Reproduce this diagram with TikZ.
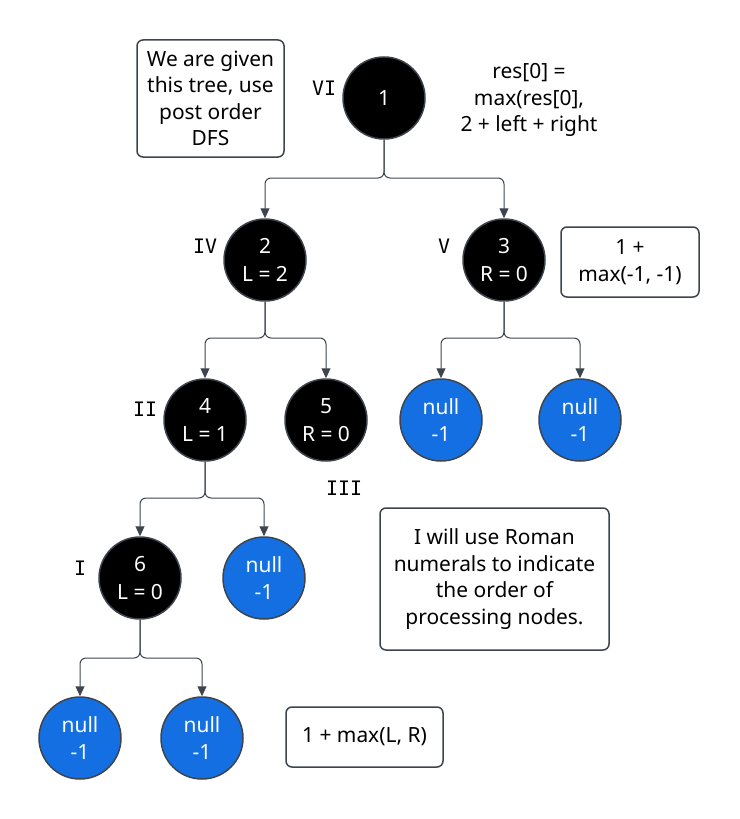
\documentclass[tikz,border=0pt]{standalone}
\usepackage{fontspec}
\setmainfont{Noto Sans}
\setmonofont{DejaVu Sans Mono}
\usetikzlibrary{arrows.meta}
\definecolor{edgegray}{RGB}{62,68,78}
\definecolor{nullblue}{RGB}{20,112,226}
\begin{document}
\begin{tikzpicture}[x=1bp,y=-1bp,
  every node/.style={font=\fontsize{21}{26.5}\selectfont},
  tnode/.style={circle,minimum size=82bp,inner sep=0pt,fill=black,draw=edgegray,line width=1.5bp,text=white,align=center,font=\fontsize{21}{28}\selectfont},
  nnode/.style={tnode,fill=nullblue},
  note/.style={draw=edgegray,line width=1.5bp,rounded corners=6bp,align=center,inner sep=0pt},
  order/.style={font=\ttfamily\fontsize{20}{24}\selectfont},
  edge/.style={draw=edgegray,line width=1bp,rounded corners=6bp,-{Triangle[length=10bp,width=9bp]}}]
\useasboundingbox (0,0) rectangle (740,819);

% tree nodes
\node[tnode] (n1) at (384,98) {1};
\node[tnode] (n2) at (265,260) {2\\L = 2};
\node[tnode] (n3) at (504,260) {3\\R = 0};
\node[tnode] (n4) at (205,420) {4\\L = 1};
\node[tnode] (n5) at (326,420) {5\\R = 0};
\node[nnode] (n3l) at (441,420) {null\\-1};
\node[nnode] (n3r) at (580,420) {null\\-1};
\node[tnode] (n6) at (140,578) {6\\L = 0};
\node[nnode] (n4r) at (264,578) {null\\-1};
\node[nnode] (n6l) at (80,738) {null\\-1};
\node[nnode] (n6r) at (202,738) {null\\-1};

% branch points
\coordinate (b1) at (384,178);
\coordinate (b2) at (265,338);
\coordinate (b3) at (504,338);
\coordinate (b4) at (205,498);
\coordinate (b6) at (140,658);

\draw[edge] (n1.south) -- (b1) -| (n2.north);
\draw[edge] (n1.south) -- (b1) -| (n3.north);
\draw[edge] (n2.south) -- (b2) -| (n4.north);
\draw[edge] (n2.south) -- (b2) -| (n5.north);
\draw[edge] (n3.south) -- (b3) -| (n3l.north);
\draw[edge] (n3.south) -- (b3) -| (n3r.north);
\draw[edge] (n4.south) -- (b4) -| (n6.north);
\draw[edge] (n4.south) -- (b4) -| (n4r.north);
\draw[edge] (n6.south) -- (b6) -| (n6l.north);
\draw[edge] (n6.south) -- (b6) -| (n6r.north);

% order labels
\node[order] (o6) at (324,88) {VI};
\node[order] (o4) at (205,246) {IV};
\node[order] (o5) at (444,246) {V};
\node[order] (o2) at (145,409) {II};
\node[order] (o3) at (344,488) {III};
\node[order] (o1) at (80,568) {I};

% notes
\node[note,minimum width=147bp,minimum height=117bp] (given) at (210.5,98.5) {We are given\\this tree, use\\post order\\DFS};
\node[align=center] (res) at (529,100) {res[0] =\\max(res[0],\\2 + left + right};
\node[note,minimum width=138bp,minimum height=70bp] (m3) at (630,262) {1 +\\max(-1, -1)};
\node[note,minimum width=229bp,minimum height=142bp] (roman) at (494.5,579) {I will use Roman\\numerals to indicate\\the order of\\processing nodes.};
\node[note,minimum width=157bp,minimum height=60bp] (mlr) at (364.5,737) {1 + max(L, R)};
\end{tikzpicture}
\end{document}
